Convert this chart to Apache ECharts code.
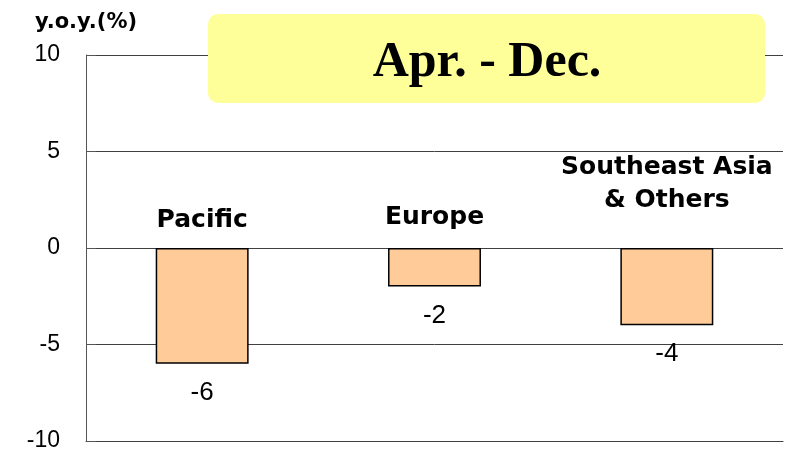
<!DOCTYPE html>
<html>
<head>
<meta charset="utf-8">
<script src="https://cdn.jsdelivr.net/npm/echarts@6/dist/echarts.min.js"></script>
<style>
  html, body { margin: 0; padding: 0; background: #fff; }
  #main { width: 799px; height: 453px; }
</style>
</head>
<body>
<div id="main"></div>
<script>
// 数据
var regions = ['Pacific', 'Europe', 'Southeast Asia\n& Others'];
var yoyValues = [-6, -2, -4];
// 地区名称标签的高度（y值）
var nameLabelY = [1.45, 1.58, 3.32];
var yTicks = { min: -10, max: 10, interval: 5 };

var sans = '"DejaVu Sans", Arial, sans-serif';
var arial = '"Liberation Sans", Arial, sans-serif';
var myChart = echarts.init(document.getElementById('main'));
var option = {
  backgroundColor: '#fff',
  animation: false,
  grid: { left: 86, right: 16, top: 55, bottom: 12 },
  xAxis: {
    type: 'category',
    data: regions,
    axisLine: { onZero: false, lineStyle: { color: '#404040', width: 1 } },
    axisTick: { show: false },
    axisLabel: { show: false },
    splitLine: { show: false }
  },
  yAxis: {
    type: 'value',
    min: yTicks.min,
    max: yTicks.max,
    interval: yTicks.interval,
    name: 'y.o.y.(%)',
    nameLocation: 'end',
    nameGap: 22,
    nameTextStyle: { color: '#000', fontSize: 21, fontWeight: 'bold', fontFamily: sans, align: 'center' },
    axisLine: { show: true, lineStyle: { color: '#555', width: 1 } },
    axisTick: { show: true, inside: true, length: 10, lineStyle: { color: '#555' } },
    axisLabel: { color: '#000', fontSize: 23, margin: 26, fontFamily: arial },
    splitLine: { lineStyle: { color: '#404040', width: 1 } }
  },
  series: [
    {
      type: 'bar',
      data: yoyValues,
      barWidth: '40%',
      itemStyle: { color: '#ffcc99', borderColor: '#000', borderWidth: 1.5 },
      label: {
        show: true,
        position: 'bottom',
        distance: 16,
        color: '#000',
        fontSize: 26,
        fontFamily: arial
      }
    },
    {
      type: 'scatter',
      symbolSize: 0,
      itemStyle: { opacity: 1 },
      data: nameLabelY.map(function (y, i) { return [i, y]; }),
      label: {
        show: true,
        position: 'inside',
        color: '#000',
        opacity: 1,
        fontSize: 25,
        fontWeight: 'bold',
        lineHeight: 33,
        fontFamily: sans,
        formatter: function (p) { return regions[p.dataIndex]; }
      }
    }
  ],
  graphic: [
    {
      type: 'rect',
      z: 100,
      shape: { x: 208, y: 14, width: 557, height: 89, r: 10 },
      style: { fill: '#ffff99' }
    },
    {
      type: 'text',
      z: 101,
      x: 487,
      y: 63,
      style: {
        text: 'Apr. - Dec.',
        fill: '#000',
        font: 'bold 50px "Liberation Serif", "Times New Roman", serif',
        textAlign: 'center',
        textVerticalAlign: 'middle'
      }
    }
  ]
};
myChart.setOption(option);
</script>
</body>
</html>
